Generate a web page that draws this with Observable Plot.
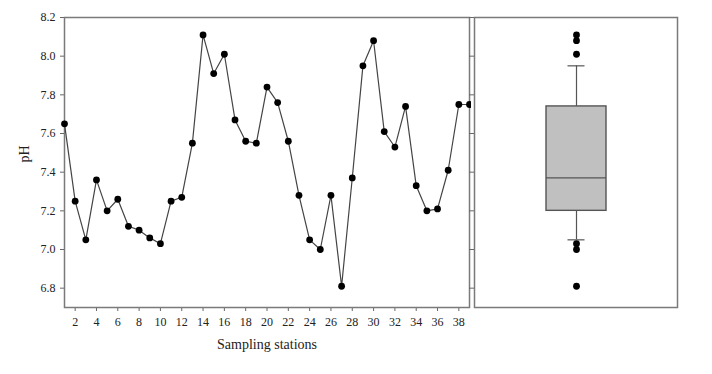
<!DOCTYPE html>
<html>
<head>
<meta charset="utf-8">
<script src="https://cdn.jsdelivr.net/npm/d3@7"></script>
<script src="https://cdn.jsdelivr.net/npm/@observablehq/plot@0.6"></script>
<style>
  html, body { margin: 0; padding: 0; background: #fff; }
  #wrap { position: relative; width: 712px; height: 374px; overflow: hidden; }
  #left, #right { position: absolute; top: 0; }
  #left { left: 0; }
  #right { left: 460px; }
</style>
</head>
<body>
<div id="wrap"><div id="left"></div><div id="right"></div></div>
<script>
// Data
const stations = d3.range(1, 40);
const pH = [7.65, 7.25, 7.05, 7.36, 7.20, 7.26, 7.12, 7.10, 7.06, 7.03,
            7.25, 7.27, 7.55, 8.11, 7.91, 8.01, 7.67, 7.56, 7.55, 7.84,
            7.76, 7.56, 7.28, 7.05, 7.00, 7.28, 6.81, 7.37, 7.95, 8.08,
            7.61, 7.53, 7.74, 7.33, 7.20, 7.21, 7.41, 7.75, 7.75];
const yTicks = [6.8, 7.0, 7.2, 7.4, 7.6, 7.8, 8.0, 8.2];
const xTicks = d3.range(2, 39, 2);
const xLabel = "Sampling stations";
const yLabel = "pH";

const data = stations.map((s, i) => ({station: s, pH: pH[i]}));

// Box statistics (percentile rank (n+1)p, whiskers at 10th/90th percentiles)
const sorted = pH.slice().sort(d3.ascending);
function pct(p) {
  const n = sorted.length;
  const r = (n + 1) * p; // 1-based rank
  const lo = Math.floor(r), hi = Math.ceil(r);
  const a = sorted[Math.max(0, Math.min(n - 1, lo - 1))];
  const b = sorted[Math.max(0, Math.min(n - 1, hi - 1))];
  return a + (b - a) * (r - lo);
}
const stats = [{name: "pH", lo: pct(0.10), q1: pct(0.25), med: pct(0.5), q3: pct(0.75), hi: pct(0.90)}];
const outliers = sorted.filter(v => v < stats[0].lo || v > stats[0].hi).map(v => ({name: "pH", v}));

const font = "'Liberation Serif', 'Times New Roman', serif";
const frameColor = "#7a7a7a";
const H = 374, mTop = 17, mBottom = 67;
const yDomain = [6.7, 8.2];

const left = Plot.plot({
  width: 471, height: H,
  marginLeft: 64, marginRight: 2, marginTop: mTop, marginBottom: mBottom,
  style: {fontFamily: font, fontSize: "12px", color: "#222", background: "white"},
  x: {domain: [1, 39]},
  y: {domain: yDomain},
  marks: [
    Plot.axisY({ticks: yTicks, tickFormat: d3.format(".1f"), tickSize: 4, tickPadding: 5, label: null, stroke: "#666"}),
    Plot.axisX({ticks: xTicks, tickFormat: d3.format("d"), tickSize: 4, tickPadding: 6, label: null, stroke: "#666"}),
    Plot.frame({stroke: frameColor, strokeWidth: 1.5}),
    Plot.line(data, {x: "station", y: "pH", stroke: "#444", strokeWidth: 1.2}),
    Plot.dot(data, {x: "station", y: "pH", r: 3.4, fill: "#000"}),
    Plot.text([xLabel], {frameAnchor: "bottom", dy: 41, fontSize: 14, fill: "#222"}),
    Plot.text([yLabel], {frameAnchor: "left", dx: -40, rotate: -90, fontSize: 14, fill: "#222"})
  ]
});
document.getElementById("left").appendChild(left);

const right = Plot.plot({
  width: 230, height: H,
  marginLeft: 14, marginRight: 13, marginTop: mTop, marginBottom: mBottom,
  style: {fontFamily: font, fontSize: "12px", color: "#222", background: "transparent"},
  x: {type: "band", domain: ["pH"], padding: 0.544, axis: null},
  y: {domain: yDomain},
  marks: [
    Plot.axisY({ticks: yTicks, tickFormat: () => "", tickSize: 5, label: null, stroke: "#666"}),
    Plot.frame({stroke: frameColor, strokeWidth: 1.5}),
    Plot.ruleX(stats, {x: "name", y1: "lo", y2: "q1", stroke: "#555", strokeWidth: 1.2}),
    Plot.ruleX(stats, {x: "name", y1: "q3", y2: "hi", stroke: "#555", strokeWidth: 1.2}),
    Plot.tickY(stats, {x: "name", y: "lo", insetLeft: 21.5, insetRight: 21.5, stroke: "#555", strokeWidth: 1.2}),
    Plot.tickY(stats, {x: "name", y: "hi", insetLeft: 21.5, insetRight: 21.5, stroke: "#555", strokeWidth: 1.2}),
    Plot.barY(stats, {x: "name", y1: "q1", y2: "q3", fill: "#c0c0c0", stroke: "#555", strokeWidth: 1.4}),
    Plot.tickY(stats, {x: "name", y: "med", stroke: "#555", strokeWidth: 1.2}),
    Plot.dot(outliers, {x: "name", y: "v", r: 3.4, fill: "#000"})
  ]
});
document.getElementById("right").appendChild(right);
</script>
</body>
</html>
